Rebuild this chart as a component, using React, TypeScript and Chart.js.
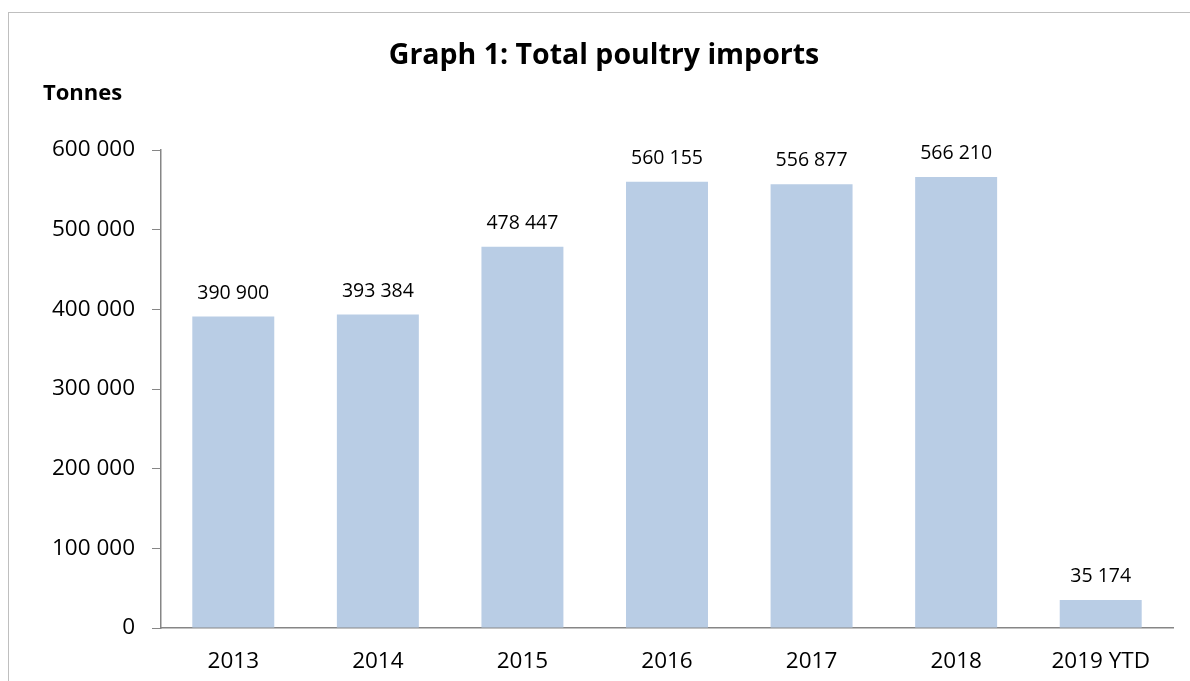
import React, { useEffect, useRef } from "react";
import { Chart, registerables } from "chart.js";

Chart.register(...registerables);

const categories = ["2013", "2014", "2015", "2016", "2017", "2018", "2019 YTD"];
const imports = [390900, 393384, 478447, 560155, 556877, 566210, 35174];
const titleText = "Graph 1: Total poultry imports";
const unitText = "Tonnes";
const yMax = 600000;
const yStep = 100000;

const FONT = "'Open Sans', 'Noto Sans', sans-serif";

const fmt = (n: number) => String(n).replace(/\B(?=(\d{3})+(?!\d))/g, " ");

const textPlugin = {
  id: "texts",
  afterDatasetsDraw(chart: any) {
    const ctx = chart.ctx;
    ctx.save();
    ctx.fillStyle = "#000";
    ctx.textAlign = "center";
    ctx.textBaseline = "alphabetic";
    ctx.font = `bold 28.5px ${FONT}`;
    ctx.fillText(titleText, 595, 51);
    ctx.textAlign = "left";
    ctx.font = `bold 22px ${FONT}`;
    ctx.fillText(unitText, 34, 87);
    ctx.textAlign = "center";
    ctx.font = `19.5px ${FONT}`;
    const meta = chart.getDatasetMeta(0);
    meta.data.forEach((bar: any, i: number) => {
      ctx.fillText(fmt(imports[i]), bar.x, bar.y - 18);
    });
    ctx.restore();
  },
};

export default function App() {
  const ref = useRef<HTMLCanvasElement>(null);
  useEffect(() => {
    if (!ref.current) return;
    const chart = new Chart(ref.current, {
      type: "bar",
      data: {
        labels: categories,
        datasets: [
          {
            data: imports,
            backgroundColor: "#B9CDE5",
            borderWidth: 0,
            categoryPercentage: 1,
            barPercentage: 0.567,
          },
        ],
      },
      options: {
        animation: false,
        responsive: true,
        maintainAspectRatio: false,
        layout: { padding: { top: 137, right: 17, left: 0, bottom: 0 } },
        plugins: {
          legend: { display: false },
          title: { display: false },
          tooltip: { enabled: false },
        },
        scales: {
          x: {
            grid: { display: false, drawTicks: false, drawOnChartArea: false },
            border: { display: true, color: "#868686", width: 1.5 },
            ticks: {
              color: "#000",
              font: { family: FONT, size: 22.5 },
              padding: 20,
              maxRotation: 0,
            },
            afterFit: (s: any) => {
              s.height = 53;
            },
          },
          y: {
            min: 0,
            max: yMax,
            grid: {
              drawOnChartArea: false,
              drawTicks: true,
              tickLength: 9,
              color: "#868686",
              tickColor: "#868686",
            },
            border: { display: true, color: "#868686", width: 1.5 },
            ticks: {
              stepSize: yStep,
              color: "#000",
              font: { family: FONT, size: 22.5 },
              padding: 17,
              callback: (v: any) => fmt(Number(v)),
            },
            afterFit: (s: any) => {
              s.width = 152;
            },
          },
        },
      },
      plugins: [textPlugin],
    });
    return () => chart.destroy();
  }, []);

  return (
    <div
      style={{
        position: "fixed",
        left: 8,
        top: 12,
        width: 1182,
        height: 669,
        boxSizing: "border-box",
        borderLeft: "1px solid #bfbfbf",
        borderTop: "1px solid #bfbfbf",
        background: "#fff",
      }}
    >
      <div style={{ position: "relative", width: "100%", height: "100%" }}>
        <canvas ref={ref} />
      </div>
    </div>
  );
}
